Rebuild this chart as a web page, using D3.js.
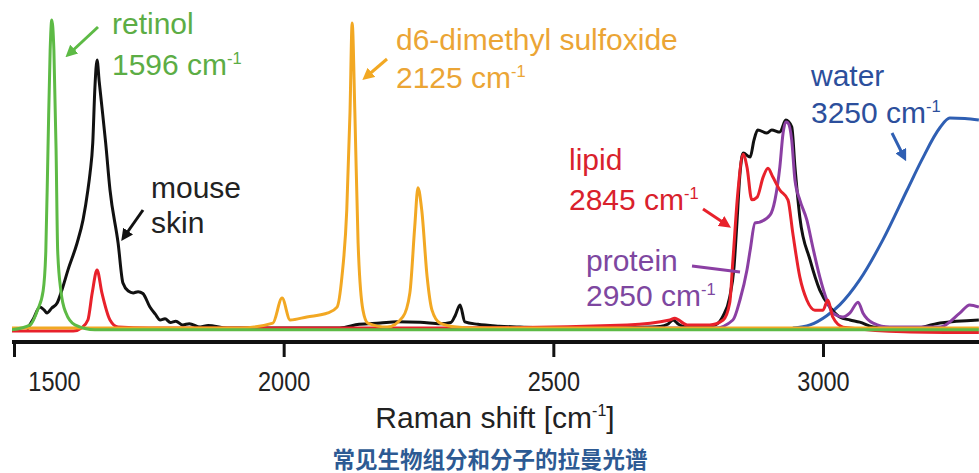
<!DOCTYPE html>
<html>
<head>
<meta charset="utf-8">
<script src="https://cdn.jsdelivr.net/npm/d3@7"></script>
<style>
  body { margin: 0; background: #fff; }
  svg { display: block; }
  text { font-family: "Liberation Sans", Arial, sans-serif; }
</style>
</head>
<body>
<div id="chart"></div>
<script>
// spectra: wavenumber (cm-1) and relative intensity
var retinolX = [1496, 1530, 1544, 1554, 1559, 1563, 1567, 1570, 1574, 1578, 1581, 1587, 1596, 1613, 1650, 3289]
var retinolY = [-0.006, 0.01, 0.06, 0.12, 0.25, 0.58, 0.9, 1.0, 0.9, 0.58, 0.25, 0.12, 0.05, 0.01, -0.006, -0.006]

var skinX = [1524, 1536, 1548, 1556, 1561, 1570, 1580, 1590, 1600, 1617, 1628, 1637, 1641, 1646, 1650, 1654, 1658, 1663, 1670, 1678, 1693, 1702,
  1712, 1721, 1730, 1739, 1752, 1762, 1771, 1780, 1790, 1800, 1813, 1825, 1845, 1860, 1895, 1950, 2050, 2104, 2140, 2179, 2210, 2253,
  2290, 2310, 2318, 2327, 2336, 2360, 2400, 2438, 2500, 2586, 2650, 2698, 2712, 2722, 2732, 2744, 2772, 2800, 2815, 2827, 2835, 2840,
  2846, 2852, 2865, 2872, 2879, 2896, 2905, 2920, 2931, 2942, 2948, 2957, 2976, 2994, 3013, 3031, 3050, 3068, 3093, 3156, 3217, 3289]
var skinY = [-0.005, 0.03, 0.068, 0.058, 0.049, 0.065, 0.081, 0.13, 0.188, 0.276, 0.351, 0.448, 0.503, 0.6, 0.78, 0.87, 0.8, 0.718, 0.6, 0.448, 0.276, 0.146,
  0.12, 0.114, 0.118, 0.112, 0.068, 0.045, 0.026, 0.03, 0.018, 0.022, 0.01, 0.014, 0.003, 0.008, 0.0, 0.0, 0.0, 0.0, 0.012, 0.016, 0.02, 0.019,
  0.014, 0.018, 0.04, 0.075, 0.02, 0.012, 0.006, 0.003, 0.0, 0.0, 0.002, 0.005, 0.012, 0.026, 0.012, 0.004, 0.004, 0.01, 0.04, 0.1, 0.198, 0.33,
  0.5, 0.568, 0.555, 0.61, 0.643, 0.633, 0.643, 0.636, 0.675, 0.653, 0.523, 0.36, 0.221, 0.123, 0.068, 0.036, 0.026, 0.019, 0.003, -0.006, 0.016, 0.026]

var lipidX = [1496, 1610, 1625, 1637, 1645, 1654, 1663, 1678, 1693, 1750, 2300, 2637, 2716, 2725, 2748, 2790, 2815, 2827, 2833, 2842,
  2852, 2859, 2868, 2878, 2889, 2898, 2907, 2920, 2935, 2944, 2957, 2970, 2985, 3000, 3009, 3018, 3037, 3050, 3150, 3289]
var lipidY = [-0.01, -0.01, 0.0, 0.026, 0.114, 0.188, 0.114, 0.026, 0.003, 0.0, 0.0, 0.01, 0.026, 0.032, 0.01, 0.01, 0.026, 0.081, 0.221, 0.438,
  0.564, 0.523, 0.416, 0.425, 0.49, 0.519, 0.49, 0.448, 0.416, 0.308, 0.166, 0.091, 0.058, 0.058, 0.091, 0.036, 0.003, 0.0, -0.012, -0.015]

var proteinX = [2550, 2800, 2833, 2846, 2859, 2865, 2874, 2883, 2902, 2911, 2920, 2926, 2931, 2935, 2942, 2948, 2957, 2970, 2981, 2994,
  3007, 3018, 3037, 3050, 3065, 3074, 3093, 3124, 3217, 3254, 3272, 3289]
var proteinY = [0.0, 0.0, 0.026, 0.091, 0.188, 0.253, 0.341, 0.344, 0.367, 0.416, 0.523, 0.633, 0.669, 0.666, 0.61, 0.48, 0.416, 0.351, 0.263, 0.166,
  0.091, 0.049, 0.036, 0.049, 0.084, 0.049, 0.016, 0.003, 0.003, 0.049, 0.075, 0.068]

var waterX = [2944, 2976, 3007, 3031, 3068, 3111, 3156, 3183, 3217, 3235, 3263, 3289]
var waterY = [0.0, 0.01, 0.04, 0.075, 0.156, 0.286, 0.448, 0.545, 0.651, 0.682, 0.68, 0.675]

var dmsoX = [1496, 1919, 1980, 1997, 2012, 2043, 2082, 2099, 2108, 2117, 2123, 2127, 2132, 2138, 2147, 2156, 2192, 2221, 2234, 2243,
  2249, 2256, 2266, 2275, 2290, 2321, 2351, 3289]
var dmsoY = [0.0, 0.0, 0.016, 0.097, 0.026, 0.036, 0.049, 0.068, 0.166, 0.383, 0.7, 0.99, 0.7, 0.276, 0.058, 0.016, 0.003, 0.036, 0.114, 0.328,
  0.455, 0.383, 0.166, 0.058, 0.016, 0.003, 0.0, 0.0]

var tickValues = [1500, 2000, 2500, 3000]

var width = 979
var height = 473

var svg = d3.select("#chart")
  .append("svg")
    .attr("width", width)
    .attr("height", height)

var x = d3.scaleLinear().domain([1500, 3000]).range([14, 823])
var y = d3.scaleLinear().domain([0, 1]).range([328, 20])

var line = d3.line()
  .x(function(d) { return x(d[0]) })
  .y(function(d) { return y(d[1]) })
  .curve(d3.curveMonotoneX)

// draw order: later ones sit on top
var series = [
  { xs: waterX, ys: waterY, color: "#2f5fb3" },
  { xs: skinX, ys: skinY, color: "#111111" },
  { xs: proteinX, ys: proteinY, color: "#8b3fa3" },
  { xs: lipidX, ys: lipidY, color: "#e8212b" },
  { xs: dmsoX, ys: dmsoY, color: "#f2a823" },
  { xs: retinolX, ys: retinolY, color: "#5dba45" }
]

var plot = svg.append("g")
plot.append("defs").append("clipPath").attr("id", "clip")
  .append("rect").attr("x", 12).attr("y", 0).attr("width", 967).attr("height", 338)

plot.selectAll("path.spec")
  .data(series)
  .enter()
  .append("path")
    .attr("class", "spec")
    .attr("clip-path", "url(#clip)")
    .attr("d", function(s) { return line(d3.zip(s.xs, s.ys)) })
    .attr("fill", "none")
    .attr("stroke", function(s) { return s.color })
    .attr("stroke-width", 3)
    .attr("stroke-linejoin", "round")

// x axis
var axis = svg.append("g")
  .attr("transform", "translate(0,342)")
  .call(d3.axisBottom(x).tickValues(tickValues).tickFormat(d3.format("d"))
    .tickSize(15).tickPadding(14).tickSizeOuter(0))
axis.select(".domain").attr("d", "M12,0H979").attr("stroke", "#111").attr("stroke-width", 4)
axis.selectAll(".tick line").attr("stroke", "#111").attr("stroke-width", 3)
axis.selectAll(".tick text")
  .attr("fill", "#222")
  .style("font-size", "28px")
  // the 1500 label sits to the right of its tick in the original
  .attr("transform", function(d) { return "translate(" + (d === 1500 ? 40 : 0) + ",0) scale(0.84,1)" })

// labels with a superscript "-1"
function label(px, py, lines, color, size) {
  var g = svg.append("g").attr("transform", "translate(" + px + "," + py + ")")
  lines.forEach(function(l, i) {
    var t = g.append("text")
      .attr("y", i * l.gap)
      .attr("fill", color)
      .style("font-size", size + "px")
    t.append("tspan").text(l.text)
    if (l.sup) {
      t.append("tspan").text(l.sup)
        .attr("dy", -size * 0.38)
        .style("font-size", (size * 0.55) + "px")
    }
  })
}

label(112, 34, [{ text: "retinol", gap: 0 }, { text: "1596 cm", sup: "-1", gap: 41 }], "#5cad45", 30)
label(151, 198, [{ text: "mouse", gap: 0 }, { text: "skin", gap: 35 }], "#222", 30)
label(396, 50, [{ text: "d6-dimethyl sulfoxide", gap: 0 }, { text: "2125 cm", sup: "-1", gap: 38 }], "#eba535", 30)
label(811, 86, [{ text: "water", gap: 0 }, { text: "3250 cm", sup: "-1", gap: 37 }], "#2c4f9c", 30)
label(569, 170, [{ text: "lipid", gap: 0 }, { text: "2845 cm", sup: "-1", gap: 40 }], "#d9212c", 30)
label(586, 271, [{ text: "protein", gap: 0 }, { text: "2950 cm", sup: "-1", gap: 35 }], "#7e47a0", 30)

// pointer arrows
var defs = svg.append("defs")
function arrow(x1, y1, x2, y2, color, head) {
  var id = "ah" + color.replace("#", "")
  if (head && defs.select("#" + id).empty()) {
    defs.append("marker").attr("id", id)
      .attr("viewBox", "0 0 10 10").attr("refX", 6).attr("refY", 5)
      .attr("markerWidth", 4).attr("markerHeight", 4).attr("orient", "auto")
      .append("path").attr("d", "M0,0L10,5L0,10z").attr("fill", color)
  }
  svg.append("line")
    .attr("x1", x1).attr("y1", y1).attr("x2", x2).attr("y2", y2)
    .attr("stroke", color).attr("stroke-width", 3)
    .attr("marker-end", head ? "url(#" + id + ")" : null)
}
arrow(98, 27, 69, 54, "#5dba45", true)
arrow(143, 210, 124, 237, "#111111", true)
arrow(387, 59, 366, 77, "#f2a823", true)
arrow(892, 133, 904, 157, "#2f5fb3", true)
arrow(703, 209, 727, 225, "#e8212b", true)
arrow(692, 266, 740, 272, "#8b3fa3", false)

// axis title
var title = svg.append("text")
  .attr("transform", "translate(495,428)")
  .attr("text-anchor", "middle")
  .attr("fill", "#222")
  .style("font-size", "30px")
title.append("tspan").text("Raman shift [cm")
title.append("tspan").text("-1").attr("dy", -12).style("font-size", "16px")
title.append("tspan").text("]").attr("dy", 12)

svg.append("text")
  .attr("x", 490).attr("y", 468)
  .attr("text-anchor", "middle")
  .attr("fill", "#2d5a93")
  .style("font-family", '"Noto Sans CJK SC", sans-serif')
  .style("font-weight", "bold")
  .style("font-size", "22.5px")
  .text("常见生物组分和分子的拉曼光谱")
</script>
</body>
</html>
